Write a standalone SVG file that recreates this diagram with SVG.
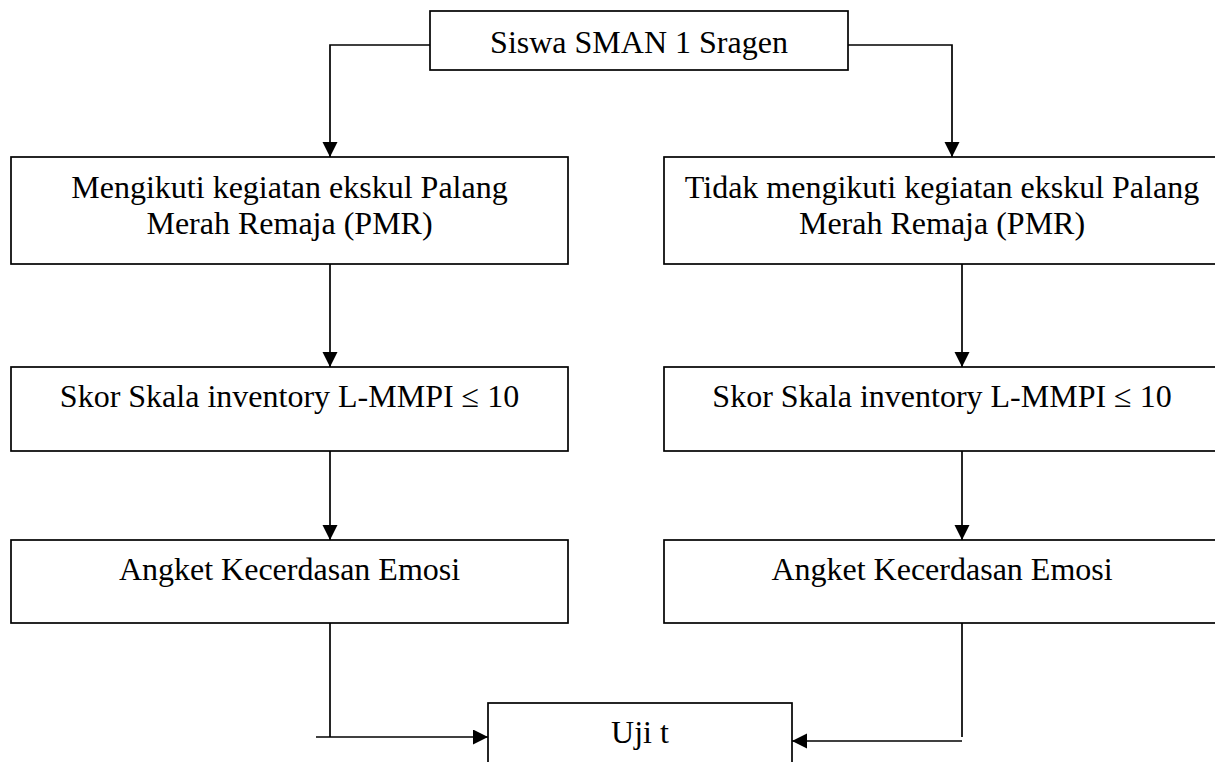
<svg xmlns="http://www.w3.org/2000/svg" width="1215" height="762" viewBox="0 0 1215 762">
<defs>
<marker id="arr" markerUnits="userSpaceOnUse" markerWidth="16" markerHeight="16" refX="15" refY="7.5" orient="auto">
<path d="M0,0 L15,7.5 L0,15 z" fill="#000"/>
</marker>
<style>
.box{fill:#fff;stroke:#000;stroke-width:1.7}
.t{font-family:"Liberation Serif","Times New Roman",serif;font-size:32px;fill:#000;text-anchor:middle}
.c{fill:none;stroke:#000;stroke-width:1.7}
</style>
</defs>
<rect width="1215" height="762" fill="#fff"/>
<g id="connectors">
<path class="c" d="M430,45 H330 V157" marker-end="url(#arr)"/>
<path class="c" d="M848,45 H952 V157" marker-end="url(#arr)"/>
<path class="c" d="M330,264 V367" marker-end="url(#arr)"/>
<path class="c" d="M962,264 V367" marker-end="url(#arr)"/>
<path class="c" d="M330,451 V540" marker-end="url(#arr)"/>
<path class="c" d="M962,451 V540" marker-end="url(#arr)"/>
<path class="c" d="M330,623 V737"/>
<path class="c" d="M316,737 H488" marker-end="url(#arr)"/>
<path class="c" d="M962,623 V737"/>
<path class="c" d="M962,741 H792" marker-end="url(#arr)"/>
</g>
<g id="siswa">
<rect class="box" x="430" y="11" width="418" height="59"/>
<text class="t" x="639" y="53">Siswa SMAN 1 Sragen</text>
</g>
<g id="ikut-pmr">
<rect class="box" x="11" y="157" width="557" height="107"/>
<text class="t" x="289.5" y="198">Mengikuti kegiatan ekskul Palang</text>
<text class="t" x="289.5" y="234">Merah Remaja (PMR)</text>
</g>
<g id="tidak-ikut-pmr">
<rect class="box" x="664" y="157" width="557" height="107"/>
<text class="t" x="942" y="198">Tidak mengikuti kegiatan ekskul Palang</text>
<text class="t" x="942" y="234">Merah Remaja (PMR)</text>
</g>
<g id="skor-kiri">
<rect class="box" x="11" y="367" width="557" height="84"/>
<text class="t" x="289.5" y="407">Skor Skala inventory L-MMPI ≤ 10</text>
</g>
<g id="skor-kanan">
<rect class="box" x="664" y="367" width="557" height="84"/>
<text class="t" x="942" y="407">Skor Skala inventory L-MMPI ≤ 10</text>
</g>
<g id="angket-kiri">
<rect class="box" x="11" y="540" width="557" height="83"/>
<text class="t" x="289.5" y="580">Angket Kecerdasan Emosi</text>
</g>
<g id="angket-kanan">
<rect class="box" x="664" y="540" width="557" height="83"/>
<text class="t" x="942" y="580">Angket Kecerdasan Emosi</text>
</g>
<g id="uji-t">
<rect class="box" x="488" y="703" width="304" height="80"/>
<text class="t" x="640" y="743">Uji t</text>
</g>
</svg>
